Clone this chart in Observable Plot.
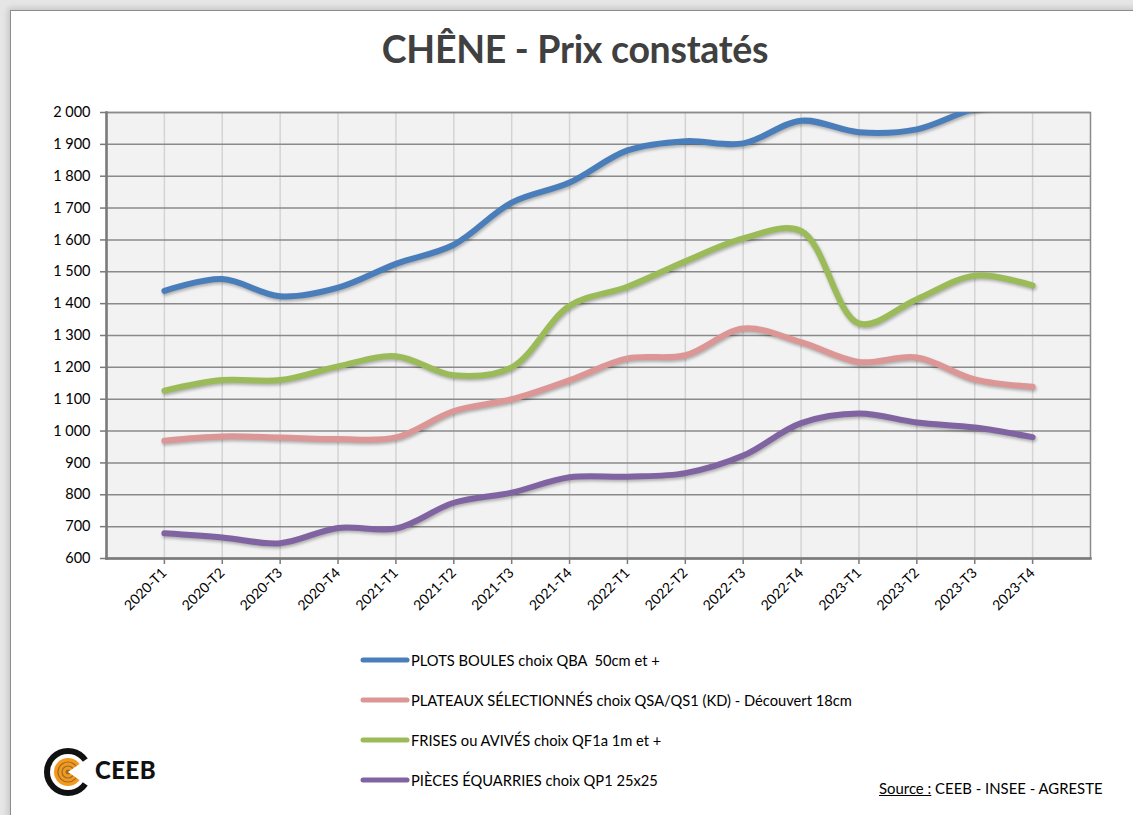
<!DOCTYPE html>
<html>
<head>
<meta charset="utf-8">
<script src="https://cdn.jsdelivr.net/npm/d3@7"></script>
<script src="https://cdn.jsdelivr.net/npm/@observablehq/plot@0.6"></script>
<style>
  html, body { margin: 0; padding: 0; }
  body { width: 1133px; height: 815px; overflow: hidden; background: #e6e6e6; font-family: Lato, "Open Sans", sans-serif; position: relative; }
  #card { position: absolute; left: 10px; top: 10px; width: 1200px; height: 900px; background: #fff; border: 1px solid #8c8c8c; box-shadow: -2px -2px 6px rgba(0,0,0,0.15); }
  #title { position: absolute; left: 0; width: 1150px; top: 26px; text-align: center; font-weight: 700; font-size: 37.5px; color: #404040; letter-spacing: -0.3px; }
  #chart { position: absolute; left: 0; top: 100px; }
  #legend { position: absolute; left: 358px; top: 640px; }
  .item { display: flex; align-items: center; height: 40px; font-size: 14.7px; color: #000; }
  .item svg { margin-right: 1px; }
  #source { position: absolute; left: 879px; top: 779px; font-size: 14.9px; color: #000; }
  #source u { text-decoration: underline; }
  #logo { position: absolute; left: 44px; top: 744px; }
  #logotext { position: absolute; left: 95px; top: 755px; font-weight: 900; font-size: 24px; color: #111; letter-spacing: 0.5px; }
  #chart path.series { filter: drop-shadow(1px 2px 1.5px rgba(0,0,0,0.28)); }
</style>
</head>
<body>
<div id="card"></div>
<div id="title">CHÊNE - Prix constatés</div>
<div id="chart"></div>
<div id="legend"></div>
<svg id="logo" width="50" height="56" viewBox="0 0 50 56">
  <circle cx="24" cy="28" r="21" fill="none" stroke="#111" stroke-width="6"/>
  <circle cx="24" cy="28" r="14" fill="#f39a1e"/>
  <circle cx="24" cy="28" r="10" fill="none" stroke="#9a6a2e" stroke-width="1.2"/>
  <circle cx="24" cy="28" r="6" fill="none" stroke="#9a6a2e" stroke-width="1.2"/>
  <circle cx="24" cy="28" r="2.5" fill="#9a6a2e"/>
  <path d="M24 28 L50 10 L50 46 Z" fill="#fff"/>
</svg>
<div id="logotext">CEEB</div>
<div id="source"><u>Source :</u> CEEB - INSEE - AGRESTE</div>
<script>
const periods = ["2020-T1","2020-T2","2020-T3","2020-T4","2021-T1","2021-T2","2021-T3","2021-T4","2022-T1","2022-T2","2022-T3","2022-T4","2023-T1","2023-T2","2023-T3","2023-T4"];
const seriesNames = [
  "PLOTS BOULES choix QBA  50cm et +",
  "PLATEAUX SÉLECTIONNÉS choix QSA/QS1 (KD) - Découvert 18cm",
  "FRISES ou AVIVÉS choix QF1a 1m et +",
  "PIÈCES ÉQUARRIES choix QP1 25x25"
];
const seriesColors = ["#4a7ebb", "#dc9695", "#9bbb59", "#8064a2"];
const plotsBoules = [1440, 1477, 1423, 1450, 1525, 1585, 1717, 1780, 1881, 1910, 1903, 1974, 1938, 1947, 2012, 2040];
const plateaux = [970, 983, 980, 975, 980, 1063, 1100, 1160, 1228, 1238, 1322, 1279, 1217, 1231, 1162, 1139];
const frises = [1127, 1160, 1160, 1203, 1235, 1175, 1200, 1393, 1453, 1533, 1605, 1628, 1338, 1414, 1488, 1457];
const pieces = [679, 666, 648, 696, 694, 775, 807, 855, 857, 868, 923, 1025, 1055, 1027, 1011, 981];
const yTicks = [600, 700, 800, 900, 1000, 1100, 1200, 1300, 1400, 1500, 1600, 1700, 1800, 1900, 2000];

const allSeries = [plotsBoules, plateaux, frises, pieces];
const rows = [];
allSeries.forEach((vals, s) => vals.forEach((v, i) => rows.push({period: periods[i], value: v, series: seriesNames[s]})));

const fmt = d => d3.format(",")(d).replace(/,/g, " ");

const chart = Plot.plot({
  width: 1133,
  height: 540,
  marginLeft: 106,
  marginRight: 43,
  marginTop: 12,
  marginBottom: 82,
  style: {fontFamily: "Lato, 'Open Sans', sans-serif", background: "transparent", overflow: "visible"},
  x: {type: "point", domain: periods, padding: 1, round: false},
  y: {domain: [600, 2000]},
  color: {domain: seriesNames, range: seriesColors},
  marks: [
    Plot.frame({fill: "#f2f2f2", stroke: "none"}),
    Plot.ruleX(periods, {stroke: "#d4d4d4", strokeWidth: 1.5}),
    Plot.ruleY(yTicks, {stroke: "#8a8a8a", strokeWidth: 1.5}),
    Plot.frame({stroke: "#8a8a8a", strokeWidth: 1.5}),
    Plot.frame({anchor: "left", stroke: "#7a7a7a", strokeWidth: 2.5}),
    Plot.frame({anchor: "bottom", stroke: "#7a7a7a", strokeWidth: 2.5}),
    Plot.line(rows, {x: "period", y: "value", z: "series", stroke: "series", strokeWidth: 6, curve: "catmull-rom", clip: true, className: "series", strokeLinecap: "round", strokeLinejoin: "round"}),
    Plot.axisY({ticks: yTicks, tickFormat: fmt, tickSize: 6, tickPadding: 10, fontSize: 14.5, color: "#000", stroke: "#7a7a7a", strokeWidth: 1.5, label: null}),
    Plot.axisX({tickSize: 6, tickRotate: -45, tickPadding: 6, fontSize: 14, color: "#000", stroke: "#7a7a7a", strokeWidth: 1.5, label: null})
  ]
});
document.getElementById("chart").appendChild(chart);
chart.querySelectorAll("g.series path, path.series").forEach(p => p.classList.add("series"));

const legend = document.getElementById("legend");
seriesNames.forEach((name, i) => {
  const div = document.createElement("div");
  div.className = "item";
  div.innerHTML = `<svg width="52" height="10"><line x1="5" y1="5" x2="49" y2="5" stroke="${seriesColors[i]}" stroke-width="5" stroke-linecap="round"/></svg><span>${name.replace(/  /g, "&nbsp; ")}</span>`;
  legend.appendChild(div);
});
</script>
</body>
</html>
